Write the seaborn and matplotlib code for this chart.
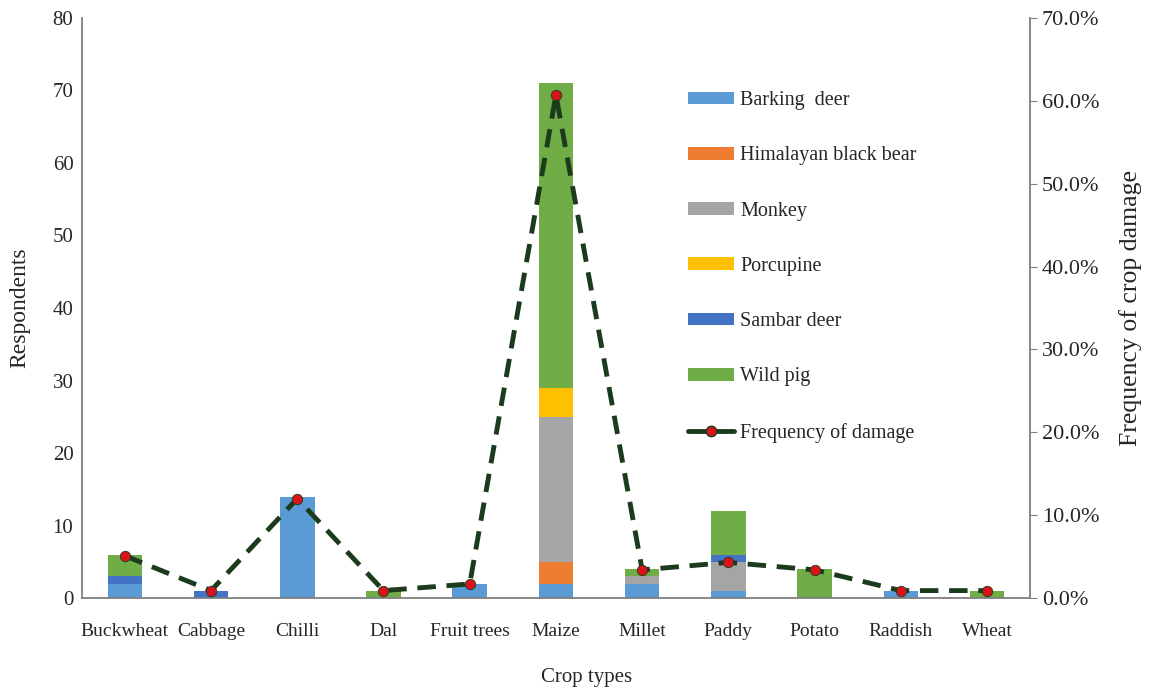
import numpy as np
import pandas as pd
import seaborn as sns
import matplotlib.pyplot as plt
from matplotlib.lines import Line2D
from matplotlib.patches import Patch
from matplotlib.ticker import FuncFormatter

# Data
crops = ['Buckwheat', 'Cabbage', 'Chilli', 'Dal', 'Fruit trees', 'Maize',
         'Millet', 'Paddy', 'Potato', 'Raddish', 'Wheat']
barking_deer = [2, 0, 14, 0, 2, 2, 2, 1, 0, 1, 0]
black_bear   = [0, 0, 0, 0, 0, 3, 0, 0, 0, 0, 0]
monkey       = [0, 0, 0, 0, 0, 20, 1, 4, 0, 0, 0]
porcupine    = [0, 0, 0, 0, 0, 4, 0, 0, 0, 0, 0]
sambar_deer  = [1, 1, 0, 0, 0, 0, 0, 1, 0, 0, 0]
wild_pig     = [3, 0, 0, 1, 0, 42, 1, 6, 4, 0, 1]
freq_damage  = [5.1, 0.9, 12.0, 0.9, 1.7, 60.7, 3.4, 4.3, 3.4, 0.9, 0.9]

species = ['Barking  deer', 'Himalayan black bear', 'Monkey', 'Porcupine',
           'Sambar deer', 'Wild pig']
colors = ['#5B9BD5', '#ED7D31', '#A5A5A5', '#FFC000', '#4472C4', '#70AD47']
layers = [barking_deer, black_bear, monkey, porcupine, sambar_deer, wild_pig]

sns.set_style('white')
plt.rcParams['font.family'] = ['Liberation Serif', 'DejaVu Serif']

fig, ax = plt.subplots(figsize=(11.51, 6.89), dpi=100)
fig.subplots_adjust(left=0.071, right=0.895, top=0.974, bottom=0.132)

# stacked bars: draw cumulative totals from the top layer down
cum = np.cumsum(np.array(layers), axis=0)
for i in range(len(layers) - 1, -1, -1):
    df = pd.DataFrame({'crop': crops, 'value': cum[i]})
    sns.barplot(data=df, x='crop', y='value', color=colors[i], ax=ax,
                width=0.4, saturation=1, edgecolor='none', linewidth=0)

ax.set_ylim(0, 80)
ax.set_xlim(-0.5, len(crops) - 0.5)
ax.set_yticks(range(0, 81, 10))
ax.set_xlabel('Crop types', fontsize=15)
ax.xaxis.set_label_coords(0.532, -0.12)
ax.set_ylabel('Respondents', fontsize=17, labelpad=16)
ax.tick_params(axis='y', labelsize=15, length=0, pad=6)
ax.tick_params(axis='x', labelsize=14, length=0, pad=18)
for s in ['top', 'right']:
    ax.spines[s].set_visible(False)
for s in ['left', 'bottom']:
    ax.spines[s].set_color('#7f7f7f')
    ax.spines[s].set_linewidth(1.3)

ax2 = ax.twinx()
freq_df = pd.DataFrame({'pos': np.arange(len(crops)), 'freq': freq_damage})
sns.lineplot(data=freq_df, x='pos', y='freq', ax=ax2, color='#1c3a1c',
             linewidth=3.5, marker='o', markersize=7.5,
             markerfacecolor='#d8141a', markeredgecolor='#1c3a1c',
             markeredgewidth=0.6)
ax2.lines[0].set_dashes((3.8, 2.2))
ax2.set_ylim(0, 70)
ax2.set_yticks(range(0, 71, 10))
ax2.yaxis.set_major_formatter(FuncFormatter(lambda v, p: f'{v:.1f}%'))
ax2.set_ylabel('Frequency of crop damage', fontsize=18.5, labelpad=14)
ax2.tick_params(axis='y', labelsize=16, length=5, color='#7f7f7f')
for s in ['top', 'left', 'bottom']:
    ax2.spines[s].set_visible(False)
ax2.spines['right'].set_color('#7f7f7f')
ax2.spines['right'].set_linewidth(1.3)

handles = [Patch(facecolor=c, edgecolor='none') for c in colors]
handles.append(Line2D([0], [0], color='#1c3a1c', linewidth=3.5,
                      marker='o', markersize=7.5, markerfacecolor='#d8141a',
                      markeredgecolor='#1c3a1c'))
labels = species + ['Frequency of damage']
ax2.legend(handles, labels, loc='upper left', bbox_to_anchor=(0.62, 0.905),
           frameon=False, fontsize=14.5, labelspacing=1.8,
           handlelength=2.3, handleheight=0.6, handletextpad=0.3)

fig.savefig('out.png', dpi=100)
